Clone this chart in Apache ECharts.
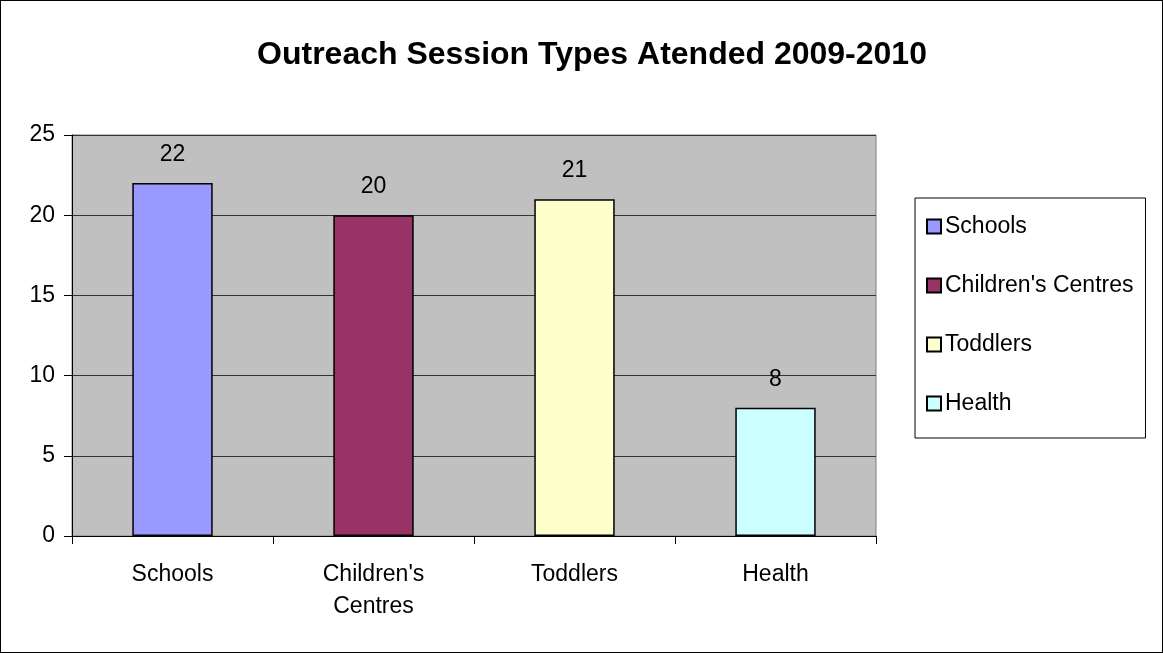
<!DOCTYPE html>
<html>
<head>
<meta charset="utf-8">
<script src="https://cdn.jsdelivr.net/npm/echarts@6/dist/echarts.min.js"></script>
<style>
  html, body { margin: 0; padding: 0; background: #fff; }
  #chart {
    position: absolute; left: 0; top: 0;
    width: 1161px; height: 651px;
    border: 1px solid #000;
  }
</style>
</head>
<body>
<div id="chart"></div>
<script>
const categories = ["Schools", "Children's\nCentres", "Toddlers", "Health"];
const seriesNames = ["Schools", "Children's Centres", "Toddlers", "Health"];
const values = [22, 20, 21, 8];
const colors = ["#9999FF", "#993366", "#FFFFCC", "#CCFFFF"];
const yTicks = { min: 0, max: 25, interval: 5 };

const font = "Liberation Sans, Arial, sans-serif";

// one series per category, stacked so each bar sits centred in its slot
const series = seriesNames.map((name, i) => ({
  name: name,
  type: "bar",
  stack: "all",
  barWidth: "40%",
  data: values.map((v, j) => (j === i ? v : "-")),
  itemStyle: { color: colors[i], borderColor: "#000", borderWidth: 1.5 },
  label: {
    show: true,
    position: "top",
    distance: 17,
    color: "#000",
    fontFamily: font,
    fontSize: 23,
  },
}));

const chart = echarts.init(document.getElementById("chart"));
chart.setOption({
  animation: false,
  title: {
    text: "Outreach Session Types Atended 2009-2010",
    left: 586,
    textAlign: "center",
    top: 33,
    textStyle: { fontFamily: font, fontSize: 32, fontWeight: "bold", color: "#000" },
  },
  legend: {
    orient: "vertical",
    left: 914,
    top: 197,
    padding: [17, 12, 23, 11],
    itemGap: 36,
    itemWidth: 14,
    itemHeight: 14,
    icon: "rect",
    backgroundColor: "#fff",
    borderColor: "#000",
    borderWidth: 1,
    textStyle: { fontFamily: font, fontSize: 23, color: "#000", padding: [0, 0, 0, -1] },
    data: seriesNames,
  },
  grid: {
    left: 71,
    right: 286,
    top: 134,
    bottom: 116,
    show: true,
    backgroundColor: "#C0C0C0",
    borderColor: "#808080",
    borderWidth: 1,
  },
  xAxis: {
    type: "category",
    data: categories,
    axisLine: { lineStyle: { color: "#000", width: 1 } },
    axisTick: { show: true, inside: false, length: 8, lineStyle: { color: "#000" } },
    axisLabel: {
      margin: 23,
      color: "#000",
      fontFamily: font,
      fontSize: 23,
      lineHeight: 32,
    },
  },
  yAxis: {
    type: "value",
    min: yTicks.min,
    max: yTicks.max,
    interval: yTicks.interval,
    axisLine: { show: true, lineStyle: { color: "#000", width: 1 } },
    axisTick: { show: true, inside: false, length: 8, lineStyle: { color: "#000" } },
    axisLabel: { margin: 17, color: "#000", fontFamily: font, fontSize: 23 },
    splitLine: { lineStyle: { color: "#333", width: 1 } },
  },
  series: series,
});
</script>
</body>
</html>
